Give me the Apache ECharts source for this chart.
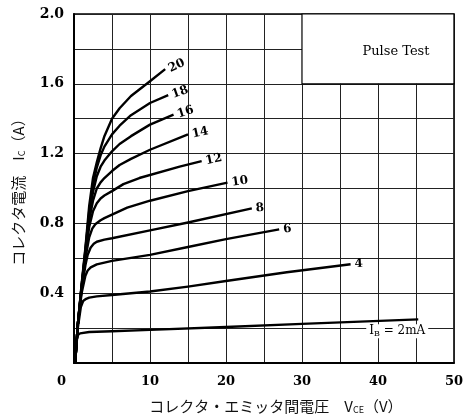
<!DOCTYPE html>
<html>
<head>
<meta charset="utf-8">
<script src="https://cdn.jsdelivr.net/npm/echarts@6/dist/echarts.min.js"></script>
<style>html,body{margin:0;padding:0;background:#fff}#c{width:466px;height:419px}</style>
</head>
<body>
<div id="c"></div>
<script>
// Base current labels (mA)
var ibLabels = ['2', '4', '6', '8', '10', '12', '14', '16', '18', '20'];
// Curves: [V_CE (V), I_C (A)]
var ib2  = [[0.15,0],[0.25,0.08],[0.35,0.13],[0.5,0.16],[0.8,0.17],[1,0.172],[2,0.178],[5,0.182],[10,0.19],[20,0.206],[30,0.224],[45.3,0.25]];
var ib4  = [[0.15,0],[0.5,0.2],[0.9,0.32],[1.2,0.355],[1.6,0.368],[2,0.375],[3,0.382],[5,0.39],[10,0.41],[15,0.438],[20,0.47],[28,0.52],[36.4,0.566]];
var ib6  = [[0.15,0],[0.5,0.22],[1,0.4],[1.5,0.5],[1.8,0.53],[2.2,0.548],[3,0.565],[5,0.585],[10,0.62],[15,0.665],[20,0.71],[27,0.766]];
var ib8  = [[0.15,0],[0.5,0.22],[1,0.42],[1.5,0.56],[1.8,0.62],[2.2,0.662],[2.6,0.683],[3,0.695],[4,0.707],[5,0.715],[10,0.76],[15,0.805],[23.4,0.886]];
var ib10 = [[0.15,0],[0.5,0.22],[1,0.42],[1.5,0.6],[2,0.72],[2.4,0.77],[2.8,0.795],[3.5,0.818],[4,0.83],[5,0.85],[7,0.89],[10,0.93],[15,0.985],[20.2,1.034]];
var ib12 = [[0.15,0],[0.5,0.22],[1,0.43],[1.5,0.62],[2,0.78],[2.5,0.87],[3,0.915],[3.5,0.943],[4,0.96],[5,0.985],[6.5,1.025],[8.6,1.06],[13.9,1.125],[16.8,1.157]];
var ib14 = [[0.15,0],[0.5,0.22],[1,0.43],[1.5,0.63],[2,0.82],[2.5,0.93],[3,1.0],[3.5,1.035],[4,1.06],[5,1.1],[6,1.135],[7.5,1.17],[10,1.222],[15,1.31]];
var ib16 = [[0.15,0],[0.5,0.22],[1,0.44],[1.5,0.64],[2,0.85],[2.5,0.98],[3,1.07],[3.5,1.125],[4,1.16],[5,1.213],[6,1.255],[7.5,1.3],[10,1.366],[13.1,1.423]];
var ib18 = [[0.15,0],[0.5,0.22],[1,0.44],[1.5,0.65],[2,0.87],[2.5,1.02],[3,1.12],[3.5,1.19],[4,1.24],[5,1.31],[6,1.36],[7.5,1.42],[10,1.49],[12.4,1.535]];
var ib20 = [[0.15,0],[0.5,0.22],[1,0.45],[1.5,0.66],[2,0.9],[2.5,1.06],[3,1.15],[3.5,1.23],[4,1.3],[5,1.4],[6,1.46],[7.5,1.53],[10,1.615],[12,1.684]];
var curves = [ib2, ib4, ib6, ib8, ib10, ib12, ib14, ib16, ib18, ib20];
var labelRot = [0, 3, 5, 5, 8, 12, 12, 18, 20, 25];
// Axis tick labels
var xTickLabels = [0, 10, 20, 30, 40, 50];
var yTickLabels = ['0.4', '0.8', '1.2', '1.6', '2.0'];
var noteText = 'Pulse Test';

var numFont = 'DejaVu Serif';
var jpFont = 'Noto Sans CJK JP';

var series = curves.map(function (d, i) {
  var s = {
    type: 'line',
    name: ibLabels[i],
    data: d,
    showSymbol: false,
    smooth: false,
    lineStyle: { color: '#000', width: 2.4, join: 'round' },
    silent: true,
    z: 3,
    endLabel: {
      show: true,
      formatter: ibLabels[i],
      color: '#000',
      fontFamily: numFont,
      fontWeight: 'bold',
      fontSize: 12,
      distance: 4,
      rotate: labelRot[i]
    }
  };
  if (i === 0) {
    s.endLabel = {
      show: true,
      formatter: 'I{s|B} = 2mA',
      color: '#000',
      fontFamily: numFont,
      fontSize: 12,
      backgroundColor: '#fff',
      padding: [0, 3, 0, 3],
      offset: [-60, 12],
      rich: { s: { fontSize: 8, verticalAlign: 'bottom', fontFamily: numFont, padding: [6, 0, 0, 0] } }
    };
    s.markArea = {
      silent: true,
      itemStyle: { color: '#fff', borderColor: '#000', borderWidth: 1.2 },
      label: {
        show: true, position: 'inside', formatter: noteText,
        color: '#000', fontFamily: numFont, fontSize: 13, offset: [18, 3]
      },
      data: [[{ xAxis: 30, yAxis: 1.6 }, { xAxis: 50, yAxis: 2.0 }]]
    };
  }
  return s;
});

var chart = echarts.init(document.getElementById('c'), null, { renderer: 'canvas' });
chart.setOption({
  animation: false,
  backgroundColor: '#fff',
  grid: { left: 74, right: 10, top: 14, bottom: 55, show: true, borderColor: '#000', borderWidth: 1.5, backgroundColor: 'transparent' },
  xAxis: {
    type: 'value', min: 0, max: 50, interval: 5,
    name: 'コレクタ・エミッタ間電圧　V{s|CE}（V）',
    nameLocation: 'middle', nameGap: 36,
    nameTextStyle: { fontFamily: jpFont, fontSize: 15, color: '#111', padding: [0, 0, 0, 24],
      rich: { s: { fontSize: 9, fontFamily: jpFont, verticalAlign: 'bottom', padding: [5, 0, 0, 0] } } },
    axisLine: { show: true, onZero: false, lineStyle: { color: '#000', width: 2 } },
    axisTick: { show: false },
    splitLine: { show: true, lineStyle: { color: '#222', width: 1 } },
    axisLabel: {
      color: '#000', fontFamily: numFont, fontWeight: 'bold', fontSize: 13, margin: 12,
      alignMinLabel: 'right',
      formatter: function (v) {
        if (xTickLabels.indexOf(v) < 0) return '';
        return v === 0 ? '{z|0}' : String(v);
      },
      rich: { z: { padding: [0, 8, 0, 0], fontFamily: numFont, fontWeight: 'bold', fontSize: 13 } }
    }
  },
  yAxis: {
    type: 'value', min: 0, max: 2.0, interval: 0.2,
    name: 'コレクタ電流　I{s|C}（A）',
    nameLocation: 'middle', nameGap: 48,
    nameTextStyle: { fontFamily: jpFont, fontSize: 15, color: '#111',
      rich: { s: { fontSize: 9, fontFamily: jpFont, verticalAlign: 'bottom', padding: [5, 0, 0, 0] } } },
    axisLine: { show: true, onZero: false, lineStyle: { color: '#000', width: 2 } },
    axisTick: { show: false },
    splitLine: { show: true, lineStyle: { color: '#222', width: 1 } },
    axisLabel: {
      color: '#000', fontFamily: numFont, fontWeight: 'bold', fontSize: 14, margin: 10,
      formatter: function (v) {
        var t = v.toFixed(1);
        return yTickLabels.indexOf(t) >= 0 ? t : '';
      }
    }
  },
  series: series
});
</script>
</body>
</html>
